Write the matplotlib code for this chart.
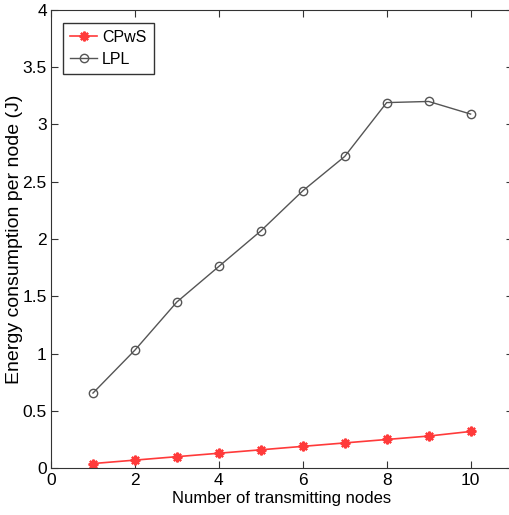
import numpy as np
import matplotlib.pyplot as plt

plt.rcParams['font.family'] = ['Liberation Sans', 'DejaVu Sans']

nodes = [1, 2, 3, 4, 5, 6, 7, 8, 9, 10]
cpws = [0.04, 0.07, 0.10, 0.13, 0.16, 0.19, 0.22, 0.25, 0.28, 0.32]
lpl = [0.655, 1.03, 1.45, 1.76, 2.07, 2.42, 2.72, 3.19, 3.20, 3.09]

fig = plt.figure(figsize=(5.1, 5.15), dpi=100)
ax = fig.add_axes([0.1, 0.091, 0.905, 0.89])

ax.plot(nodes, cpws, color='#ff3a3a', marker=(8, 2, 0), markersize=7,
        markeredgewidth=1.6, linewidth=1.2, label='CPwS')
ax.plot(nodes, lpl, color='#555555', marker='o', markersize=6,
        markerfacecolor='none', linewidth=1.0, label='LPL')

ax.set_xlim(0, 11)
ax.set_ylim(0, 4)
ax.set_xticks([0, 2, 4, 6, 8, 10])
ax.set_yticks([0, 0.5, 1, 1.5, 2, 2.5, 3, 3.5, 4])
ax.set_yticklabels(['0', '0.5', '1', '1.5', '2', '2.5', '3', '3.5', '4'])
ax.tick_params(direction='in', top=True, right=True, labelsize=12.5, length=5,
               color='#333333')
ax.tick_params(axis='y', pad=3)
for s in ax.spines.values():
    s.set_color('#333333')

ax.set_xlabel('Number of transmitting nodes', fontsize=12, labelpad=2)
ax.set_ylabel('Energy consumption per node (J)', fontsize=14)
ax.yaxis.set_label_coords(-0.06, 0.5)

leg = ax.legend(loc='upper left', fontsize=11.5, fancybox=False, framealpha=1,
                edgecolor='#333333', handlelength=1.7, handletextpad=0.3,
                borderpad=0.45, labelspacing=0.45, borderaxespad=0,
                bbox_to_anchor=(0.026, 0.972))

fig.savefig('out.png', dpi=100)
